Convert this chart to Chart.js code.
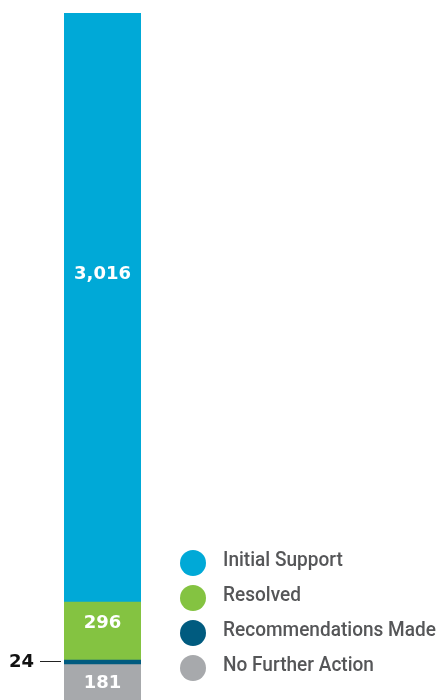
<!DOCTYPE html>
<html>
<head>
<meta charset="utf-8">
<script src="https://cdn.jsdelivr.net/npm/chart.js@4/dist/chart.umd.min.js"></script>
<style>
  html, body { margin: 0; padding: 0; background: #ffffff; }
  #wrap { position: relative; width: 440px; height: 700px; overflow: hidden; }
  #chart { position: absolute; left: 0; top: 0; }
  #legend { position: absolute; left: 180px; top: 545px; }
  .row { display: flex; align-items: center; height: 35.2px; }
  .dot { width: 26px; height: 26px; border-radius: 50%; flex: none; }
  .txt { margin-left: 17px; font-family: Roboto, "Liberation Sans Narrow", sans-serif; font-weight: 500; font-size: 20px; color: #555658; position: relative; top: -4px; white-space: nowrap; transform-origin: left center; }
</style>
</head>
<body>
<div id="wrap">
  <canvas id="chart" width="440" height="700"></canvas>
  <div id="legend"></div>
</div>
<script>
// Data (bottom to top of the stacked bar)
const categories = ["Total"];
const seriesNames = ["No Further Action", "Recommendations Made", "Resolved", "Initial Support"];
const seriesValues = [181, 24, 296, 3016];
const seriesLabels = ["181", "24", "296", "3,016"];
const legendOrder = ["Initial Support", "Resolved", "Recommendations Made", "No Further Action"];

// Styles
const seriesColors = ["#a7a9ac", "#005b7f", "#84c341", "#00a9d7"];
const labelInside = [true, false, true, true];
const labelYOffset = [0, 0, -9, -34];

const total = seriesValues.reduce((a, b) => a + b, 0);

const datasets = seriesNames.map((name, i) => ({
  label: name,
  data: [seriesValues[i]],
  backgroundColor: seriesColors[i],
  borderWidth: 0,
  barPercentage: 1,
  categoryPercentage: 1
}));

const labelPlugin = {
  id: 'valueLabels',
  afterDatasetsDraw(chart) {
    const ctx = chart.ctx;
    ctx.save();
    chart.data.datasets.forEach((ds, i) => {
      const el = chart.getDatasetMeta(i).data[0];
      const cy = (el.y + el.base) / 2;
      ctx.font = 'bold 18px "DejaVu Sans", sans-serif';
      ctx.textBaseline = 'middle';
      if (labelInside[i]) {
        ctx.fillStyle = '#ffffff';
        ctx.textAlign = 'center';
        ctx.fillText(seriesLabels[i], el.x, cy + labelYOffset[i] + 1);
      } else {
        const left = el.x - el.width / 2;
        ctx.fillStyle = '#111111';
        ctx.textAlign = 'right';
        ctx.fillText(seriesLabels[i], left - 30, cy);
        ctx.strokeStyle = '#222222';
        ctx.lineWidth = 1;
        ctx.beginPath();
        ctx.moveTo(left - 24, Math.round(cy) - 0.5);
        ctx.lineTo(left - 3, Math.round(cy) - 0.5);
        ctx.stroke();
      }
    });
    ctx.restore();
  }
};

new Chart(document.getElementById('chart'), {
  type: 'bar',
  data: { labels: categories, datasets: datasets },
  options: {
    responsive: false,
    animation: false,
    layout: { padding: { left: 64, right: 299, top: 13, bottom: 0 } },
    plugins: { legend: { display: false }, tooltip: { enabled: false } },
    scales: {
      x: { stacked: true, display: false },
      y: { stacked: true, display: false, min: 0, max: total }
    }
  },
  plugins: [labelPlugin]
});

// HTML legend
const legend = document.getElementById('legend');
const txtEls = [];
legendOrder.forEach(name => {
  const i = seriesNames.indexOf(name);
  const row = document.createElement('div');
  row.className = 'row';
  const dot = document.createElement('div');
  dot.className = 'dot';
  dot.style.background = seriesColors[i];
  const txt = document.createElement('div');
  txt.className = 'txt';
  txt.textContent = name;
  row.appendChild(dot);
  row.appendChild(txt);
  legend.appendChild(row);
  txtEls.push(txt);
});
// condense legend text so the longest entry spans ~213px like the reference
let maxW = 0;
txtEls.forEach(t => { maxW = Math.max(maxW, t.getBoundingClientRect().width); });
const sx = Math.min(1, 213 / maxW);
txtEls.forEach(t => { t.style.transform = 'scaleX(' + sx + ')'; });
</script>
</body>
</html>
